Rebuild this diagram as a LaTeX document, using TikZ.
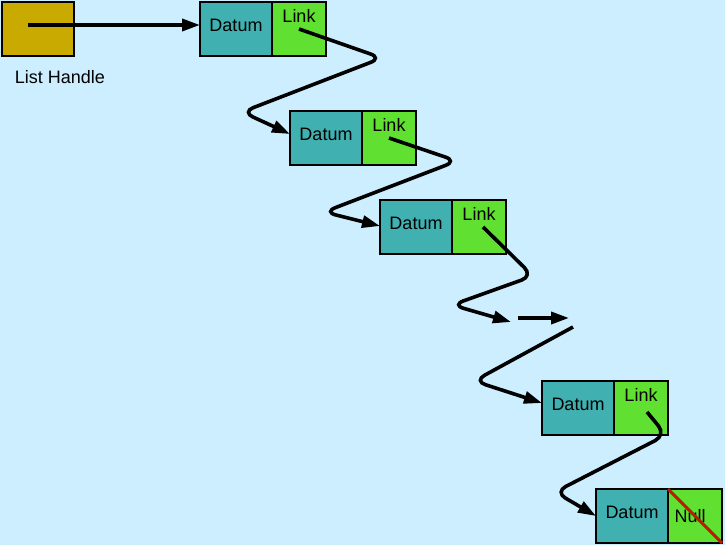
\documentclass[tikz,border=0pt]{standalone}
\usepackage{fontspec}
\setmainfont{Liberation Sans}
\usetikzlibrary{positioning,arrows.meta}

\definecolor{skycol}{RGB}{204,238,255}
\definecolor{datumcol}{RGB}{64,176,176}
\definecolor{linkcol}{RGB}{96,224,48}
\definecolor{handlecol}{RGB}{200,170,0}
\definecolor{nullcol}{RGB}{180,30,0}

\tikzset{
	cell/.style = { draw, line width = 1.8pt, inner sep = 0pt, outer sep = 0pt,
		minimum height = 54pt, font = \fontsize{18}{20}\selectfont },
	datumbox/.style = { cell, fill = datumcol, minimum width = 72pt, text depth = 8pt },
	linkbox/.style = { cell, fill = linkcol, minimum width = 54pt },
	handlebox/.style = { cell, fill = handlecol, minimum width = 72pt },
	linktext/.style = { anchor = north, inner sep = 7pt, font = \fontsize{18}{20}\selectfont },
	pointer/.style = { line width = 3.6pt, rounded corners = 12pt,
		-{Triangle[length = 18pt, width = 12pt]} },
	nullcross/.style = { nullcol, line width = 3pt }
}

\begin{document}
\begin{tikzpicture}[x = 1pt, y = -1pt]
		% фон
		\useasboundingbox [fill = skycol] ( 0, 0 ) rectangle ( 725, 545 );

		% голова списка
		\node [handlebox] (hd) at ( 38, 29 ) {};
		\node [font = \fontsize{18}{20}\selectfont] (hname) at ( 60, 77 ) {List Handle};
		\coordinate (h0) at ( 28, 25 );

		% элементы списка
		\node [datumbox] (d1) at ( 236, 29 ) {Datum};
		\node [linkbox, right = 0pt of d1, label = {[linktext] north:Link}] (l1) {};
		\node [datumbox] (d2) at ( 326, 138 ) {Datum};
		\node [linkbox, right = 0pt of d2, label = {[linktext] north:Link}] (l2) {};
		\node [datumbox] (d3) at ( 416, 227 ) {Datum};
		\node [linkbox, right = 0pt of d3, label = {[linktext] north:Link}] (l3) {};
		\node [datumbox] (d4) at ( 578, 408 ) {Datum};
		\node [linkbox, right = 0pt of d4, label = {[linktext] north:Link}] (l4) {};
		\node [datumbox] (d5) at ( 632, 516 ) {Datum};
		\node [linkbox, right = 0pt of d5, label = {[font = \fontsize{18}{20}\selectfont, xshift = -5pt] center:Null}] (n5) {};

		% пропущенные элементы
		\coordinate (gap1) at ( 511, 322 );
		\coordinate (gapa) at ( 518, 318 );
		\coordinate (gapb) at ( 569, 318 );
		\coordinate (gapc) at ( 573, 327 );

		% указатели
		\draw [pointer] (h0) -- (h0 -| d1.west);
		\draw [pointer] (l1.center) -- ( 382, 58 ) -- ( 242, 112 ) -- ([yshift = 4pt]d2.west);
		\draw [pointer] (l2.center) -- ( 457, 161 ) -- ( 324, 212 ) -- ([yshift = 1pt]d3.west);
		\draw [pointer] ([xshift = 4pt]l3.center) -- ( 533, 276 ) -- ( 452, 305 ) -- (gap1);
		\draw [pointer] (gapa) -- (gapb);
		\draw [pointer] (gapc) -- ( 474, 381 ) -- ([yshift = 5pt]d4.west);
		\draw [pointer] ([xshift = 6pt, yshift = -4pt]l4.center) -- ( 666, 435 ) -- ( 555, 492 ) -- (d5.west);

		% пустая ссылка
		\draw [nullcross] (n5.north west) -- (n5.south east);
\end{tikzpicture}
\end{document}
